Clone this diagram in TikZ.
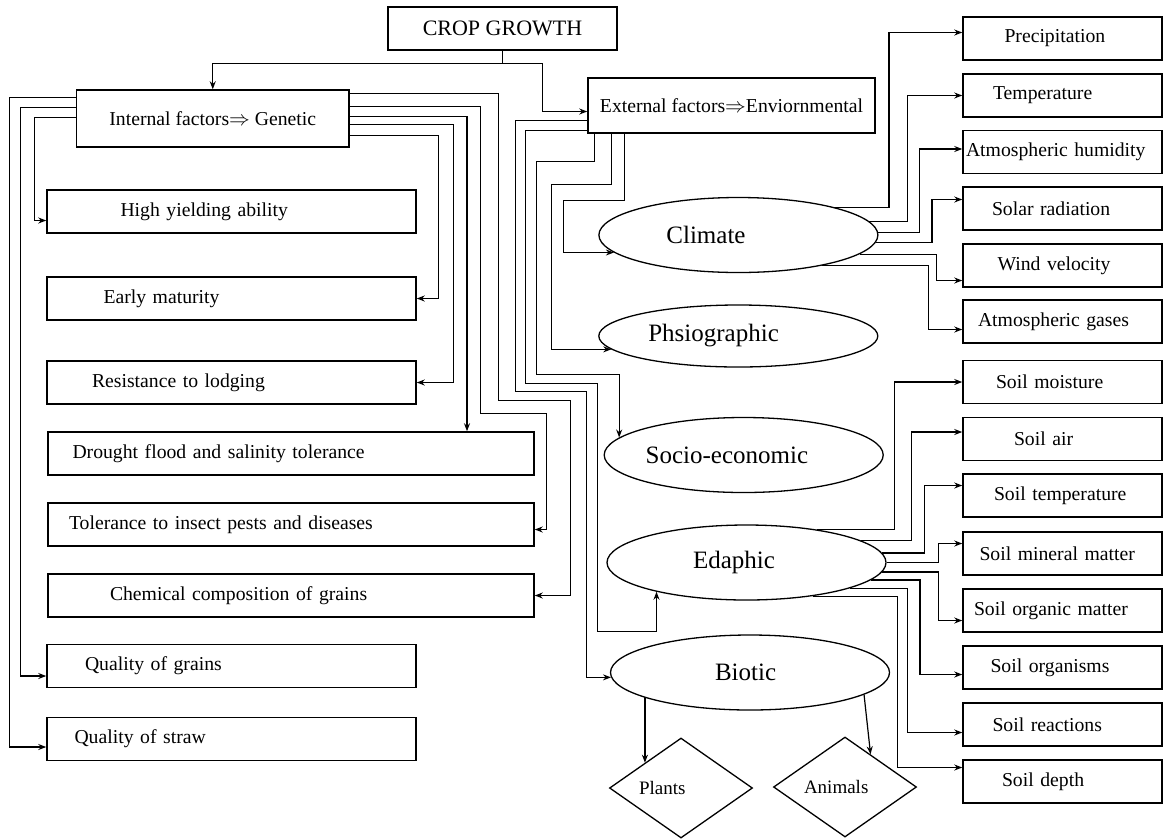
\documentclass[tikz,border=0pt]{standalone}
\usepackage{fontspec}
\setmainfont{Liberation Serif}
\usetikzlibrary{shapes.geometric, arrows.meta}

\tikzset{
  box/.style={draw, rectangle, line width=1.5pt, minimum height=43pt, inner ysep=0pt, align=left, font=\fontsize{19.7}{22}\selectfont},
  ell/.style={draw, ellipse, line width=1.3pt, minimum width=279pt, minimum height=75pt, inner sep=0pt, align=left, font=\fontsize{25}{28}\selectfont},
  dia/.style={draw, diamond, aspect=1.43, line width=1.3pt, minimum width=143pt, minimum height=100pt, inner sep=0pt, align=left, font=\fontsize{19}{21}\selectfont},
  link/.style={line width=1.2pt, -{Stealth[length=8pt,width=6pt]}}
}

\begin{document}
\begin{tikzpicture}[x=1pt, y=-1pt]
        \useasboundingbox (0,0) rectangle (1169,839);

        % Top and the two groups of factors
        \node[box, minimum width=229pt, font=\fontsize{22}{24}\selectfont] (crop) at (502.5,28.5) {CROP GROWTH};
        \node[box, minimum width=272.5pt, minimum height=57pt] (intl) at (212.75,118.5) {Internal factors$\Rightarrow$ Genetic};
        \node[box, minimum width=287pt, minimum height=55pt] (extl) at (731.5,105.5) {External factors$\Rightarrow$Enviornmental};

        % Genetic factors (left column)
        \node[box, inner xsep=73.5pt, text width=222pt] (high) at (231.5,211.5) {High yielding ability};
        \node[box, inner xsep=56.5pt, text width=256pt] (early) at (231.5,298.5) {Early maturity};
        \node[box, inner xsep=45pt, text width=279pt] (resist) at (231.5,382.5) {Resistance to lodging};
        \node[box, inner xsep=24.5pt, text width=437pt] (drought) at (291,453.5) {Drought flood and salinity tolerance};
        \node[box, inner xsep=21pt, text width=444pt] (tol) at (291,524.5) {Tolerance to insect pests and diseases};
        \node[box, inner xsep=62pt, text width=362pt] (chem) at (291,595.5) {Chemical composition of grains};
        \node[box, inner xsep=38pt, text width=293pt] (qgrain) at (231.5,666) {Quality of grains};
        \node[box, inner xsep=27.5pt, text width=314pt] (straw) at (231.5,739) {Quality of straw};

        % Environmental factors (middle)
        \node[ell, text width=144pt] (clim) at (738.4,235) {Climate};
        \node[ell, minimum height=62pt, text width=180pt] (phys) at (738.3,336) {Phsiographic};
        \node[ell, text width=196pt] (soc) at (743.7,455) {Socio-economic};
        \node[ell, text width=107pt] (ed) at (746.5,562.5) {Edaphic};
        \node[ell, text width=70pt] (bio) at (750,672.5) {Biotic};
        \node[dia, text width=84pt] (plants) at (681,788) {Plants};
        \node[dia, text width=82pt] (anim) at (845,787) {Animals};

        % Climatic factors (right column)
        \node[box, inner xsep=41.5pt, text width=116pt] (prec) at (1062.5,38.5) {Precipitation};
        \node[box, inner xsep=30pt, text width=139pt] (temp) at (1062.5,95.5) {Temperature};
        \node[box, inner xsep=3pt, text width=193pt] (hum) at (1062.5,152) {Atmospheric humidity};
        \node[box, inner xsep=29pt, text width=141pt] (solar) at (1062.5,208.5) {Solar radiation};
        \node[box, inner xsep=34.5pt, text width=130pt] (wind) at (1062.5,265.5) {Wind velocity};
        \node[box, inner xsep=15pt, text width=169pt] (gases) at (1062.5,321.5) {Atmospheric gases};

        % Soil factors (right column)
        \node[box, inner xsep=33pt, text width=133pt] (moist) at (1062.5,382) {Soil moisture};
        \node[box, inner xsep=51pt, text width=97pt] (air) at (1062.5,439) {Soil air};
        \node[box, inner xsep=31pt, text width=137pt] (stemp) at (1062.5,495.5) {Soil temperature};
        \node[box, inner xsep=16.5pt, text width=166pt] (mineral) at (1062.5,553.5) {Soil mineral matter};
        \node[box, inner xsep=11pt, text width=177pt] (organic) at (1062.5,610.5) {Soil organic matter};
        \node[box, inner xsep=27.5pt, text width=144pt] (orgs) at (1062.5,667.5) {Soil organisms};
        \node[box, inner xsep=29.5pt, text width=140pt] (react) at (1062.5,724.5) {Soil reactions};
        \node[box, inner xsep=39pt, text width=121pt] (depth) at (1062.5,781.5) {Soil depth};

        % Crop growth splits
        \draw[link] (crop.south) -- ++(0,13) -| (intl.north);
        \draw[link] (crop.south) -- ++(0,13) -- ++(40,0) |- ([yshift=-6pt]extl.west);

        % Internal factors, left side
        \draw[link] ([yshift=21pt]intl.west) -- ++(-66,0) |- ([yshift=-8pt]straw.west);
        \draw[link] ([yshift=11pt]intl.west) -- ++(-55,0) |- ([yshift=-10pt]qgrain.west);
        \draw[link] ([yshift=1pt]intl.west) -- ++(-41,0) |- ([yshift=-9pt]high.west);

        % Internal factors, right side
        \draw[link] ([yshift=-17pt]intl.east) -- ++(89,0) |- (early.east);
        \draw[link] ([yshift=-6pt]intl.east) -- ++(104,0) |- (resist.east);
        \draw[link] ([yshift=2pt]intl.east) -| ([xshift=176pt]drought.north);
        \draw[link] ([yshift=12pt]intl.east) -- ++(131,0) -- ++(0,307) -- ++(66,0) |- ([yshift=-5pt]tol.east);
        \draw[link] ([yshift=25pt]intl.east) -- ++(149,0) -- ++(0,307) -- ++(72,0) |- (chem.east);

        % External factors
        \draw[link] ([xshift=37pt]extl.south west) -- ++(0,67) -- ++(-61,0) |- (clim.188);
        \draw[link] ([xshift=24pt]extl.south west) -- ++(0,51) -- ++(-60,0) |- (phys.186);
        \draw[link] ([xshift=7pt]extl.south west) -- ++(0,28) -- ++(-58,0) -- ++(0,213) -| (soc.172);
        \draw[link] ([yshift=-25pt]extl.west) -- ++(-62,0) -- ++(0,253) -- ++(72,0) -- ++(0,248) -| (ed.198);
        \draw[link] ([yshift=-15pt]extl.west) -- ++(-72,0) -- ++(0,271) -- ++(71,0) |- (bio.182);

        % Climate
        \draw[link] (clim.16) -- ++(54,0) |- ([yshift=6pt]prec.west);
        \draw[link] (clim.6) -- ++(38,0) |- (temp.west);
        \draw[link] (clim.1) -- ++(41,0) |- ([yshift=3pt]hum.west);
        \draw[link] (clim.-3) -- ++(56,0) |- ([yshift=9pt]solar.west);
        \draw[link] (clim.-9) -- ++(77,0) |- ([yshift=-15pt]wind.west);
        \draw[link] (clim.-20) -- ++(106,0) |- ([yshift=-8pt]gases.west);

        % Edaphic
        \draw[link] (ed.25) -- ++(77,0) |- (moist.west);
        \draw[link] (ed.11) -- ++(51,0) |- ([yshift=7pt]air.west);
        \draw[link] (ed.4) -- ++(42,0) |- ([yshift=10pt]stemp.west);
        \draw[link] (ed.0) -- ++(52,0) |- ([yshift=10pt]mineral.west);
        \draw[link] (ed.-4) -- ++(56,0) |- ([yshift=-10pt]organic.west);
        \draw[link] (ed.-8) -- ++(49,0) |- ([yshift=-7pt]orgs.west);
        \draw[link] (ed.-14) -- ++(58,0) |- ([yshift=-8pt]react.west);
        \draw[link] (ed.-27) -- ++(85,0) |- ([yshift=14pt]depth.west);

        % Biotic
        \draw[link] (plants.north west |- bio.193) -- (plants.north west);
        \draw[link] (bio.-11) -- (anim.52);
\end{tikzpicture}
\end{document}
